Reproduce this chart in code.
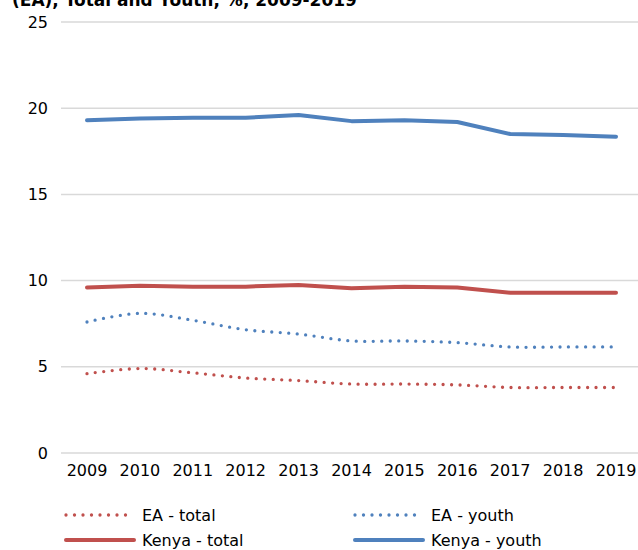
<!DOCTYPE html>
<html>
<head>
<meta charset="utf-8">
<script src="https://cdn.jsdelivr.net/npm/d3@7"></script>
<style>
  body { margin: 0; background: #fff; }
  svg { display: block; font-family: "DejaVu Sans", sans-serif; }
</style>
</head>
<body>
<div id="chart"></div>
<script>
var years = ["2009", "2010", "2011", "2012", "2013", "2014", "2015", "2016", "2017", "2018", "2019"];
var eaTotal = [4.6, 4.9, 4.65, 4.35, 4.2, 4.0, 4.0, 3.95, 3.8, 3.8, 3.8];
var eaYouth = [7.6, 8.1, 7.7, 7.15, 6.9, 6.5, 6.5, 6.4, 6.15, 6.15, 6.15];
var kenyaTotal = [9.6, 9.7, 9.65, 9.65, 9.75, 9.55, 9.65, 9.6, 9.3, 9.3, 9.3];
var kenyaYouth = [19.3, 19.4, 19.45, 19.45, 19.6, 19.25, 19.3, 19.2, 18.5, 18.45, 18.35];
var yTicks = [0, 5, 10, 15, 20, 25];

var width = 638;
var height = 550;

var red = "#C0504D";
var blue = "#4F81BD";

var series = [
  { name: "EA - total", values: eaTotal, color: red, dotted: true },
  { name: "EA - youth", values: eaYouth, color: blue, dotted: true },
  { name: "Kenya - total", values: kenyaTotal, color: red, dotted: false },
  { name: "Kenya - youth", values: kenyaYouth, color: blue, dotted: false }
];

var svg = d3
  .select("#chart")
  .append("svg")
  .attr("width", width)
  .attr("height", height);

// title, cut off at the top in the original
svg
  .append("text")
  .attr("x", 12)
  .attr("y", 6)
  .attr("font-size", 17)
  .attr("font-weight", "bold")
  .attr("fill", "#000")
  .text("(EA), Total and Youth, %, 2009-2019");

var x = d3
  .scalePoint()
  .domain(years)
  .range([87, 616]);

var y = d3
  .scaleLinear()
  .domain([0, 25])
  .range([453, 22]);

// gridlines
svg
  .append("g")
  .selectAll("line")
  .data(yTicks)
  .enter()
  .append("line")
  .attr("x1", 61)
  .attr("x2", width)
  .attr("y1", function(d) { return y(d); })
  .attr("y2", function(d) { return y(d); })
  .attr("stroke", "#D9D9D9")
  .attr("stroke-width", 1.5);

// y labels
svg
  .append("g")
  .selectAll("text")
  .data(yTicks)
  .enter()
  .append("text")
  .attr("x", 48)
  .attr("y", function(d) { return y(d); })
  .attr("dy", "0.35em")
  .attr("text-anchor", "end")
  .attr("font-size", 16)
  .attr("fill", "#000")
  .text(function(d) { return d; });

// x labels
svg
  .append("g")
  .selectAll("text")
  .data(years)
  .enter()
  .append("text")
  .attr("x", function(d) { return x(d); })
  .attr("y", 476)
  .attr("text-anchor", "middle")
  .attr("font-size", 16)
  .attr("fill", "#000")
  .text(function(d) { return d; });

var smooth = d3
  .line()
  .x(function(d, i) { return x(years[i]); })
  .y(function(d) { return y(d); })
  .curve(d3.curveCatmullRom.alpha(0.5));

var straight = d3
  .line()
  .x(function(d, i) { return x(years[i]); })
  .y(function(d) { return y(d); });

svg
  .append("g")
  .selectAll("path")
  .data(series)
  .enter()
  .append("path")
  .attr("fill", "none")
  .attr("stroke", function(d) { return d.color; })
  .attr("stroke-width", function(d) { return d.dotted ? 3.3 : 4; })
  .attr("stroke-linecap", "round")
  .attr("stroke-linejoin", "round")
  .attr("stroke-dasharray", function(d) { return d.dotted ? "0 8.5" : null; })
  .attr("d", function(d) {
    return d.dotted ? smooth(d.values) : straight(d.values);
  });

// legend
var legendItem = svg
  .append("g")
  .selectAll("g")
  .data(series)
  .enter()
  .append("g")
  .attr("transform", function(d, i) {
    return "translate(" + (66 + (i % 2) * 289) + "," + (515 + Math.floor(i / 2) * 25) + ")";
  });

legendItem
  .append("line")
  .attr("x1", 0)
  .attr("x2", 68)
  .attr("stroke", function(d) { return d.color; })
  .attr("stroke-width", function(d) { return d.dotted ? 3.3 : 4; })
  .attr("stroke-linecap", "round")
  .attr("stroke-dasharray", function(d) { return d.dotted ? "0 8.5" : null; });

legendItem
  .append("text")
  .attr("x", 76)
  .attr("dy", "0.35em")
  .attr("font-size", 16)
  .attr("fill", "#000")
  .text(function(d) { return d.name; });
</script>
</body>
</html>
